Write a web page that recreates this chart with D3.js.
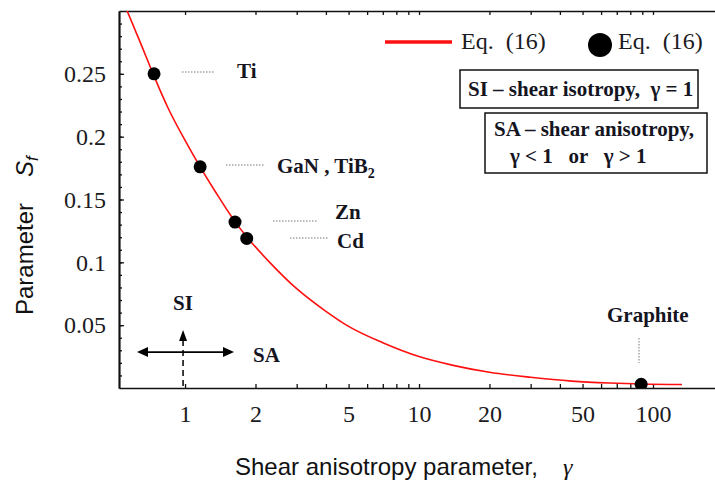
<!DOCTYPE html>
<html>
<head>
<meta charset="utf-8">
<script src="https://cdn.jsdelivr.net/npm/d3@7"></script>
<style>
  html, body { margin: 0; padding: 0; background: #fff; }
  svg { display: block; }
  .serif { font-family: "Liberation Serif", "Times New Roman", serif; }
  .sans { font-family: "Liberation Sans", Arial, sans-serif; }
</style>
</head>
<body>
<svg id="chart" width="715" height="481"></svg>
<script>
// Eq. (16) curve: S_f against shear anisotropy gamma
const curveGamma = [0.56, 0.65, 0.73, 0.85, 1.0, 1.16, 1.35, 1.64, 1.86, 2.3, 3, 4, 5, 7, 10, 14, 20, 30, 45, 65, 90, 133];
const curveS     = [0.302, 0.273, 0.25, 0.222, 0.197, 0.176, 0.156, 0.132, 0.119, 0.1, 0.079, 0.061, 0.049, 0.036, 0.025, 0.018, 0.0125, 0.0085, 0.0055, 0.004, 0.0032, 0.0028];

// materials evaluated with Eq. (16)
const materials     = ["Ti", "GaN , TiB", "Zn", "Cd", "Graphite"];
const materialGamma = [0.737, 1.16, 1.635, 1.835, 89];
const materialS     = [0.25, 0.176, 0.132, 0.119, 0.003];

// axis ticks
const xTickValues = [1, 2, 3, 4, 5, 6, 7, 8, 9, 10, 20, 30, 40, 50, 60, 70, 80, 90, 100];
const xTickLabels = [1, 2, 5, 10, 20, 50, 100];
const yTickLabels = [0.05, 0.1, 0.15, 0.2, 0.25];

(function draw() {
const svg = d3.select("#chart");
const pLeft = 119, pRight = 716, pTop = 11, pBottom = 388;

const x = d3.scaleLog().domain([0.522, 185.9]).range([pLeft, pRight]);
const y = d3.scaleLinear().domain([0, 0.3]).range([pBottom, pTop]);

svg.append("defs").append("clipPath").attr("id", "plotClip")
  .append("rect").attr("x", pLeft).attr("y", pTop)
  .attr("width", pRight - pLeft).attr("height", pBottom - pTop);

// ---- axes ----
const axisColor = "#111";
const styleAxis = g => {
  g.selectAll(".domain").attr("stroke", axisColor).attr("stroke-width", 1.7);
  g.selectAll(".tick line").attr("stroke", axisColor).attr("stroke-width", 1.3);
  g.selectAll("text").attr("class", "serif").attr("font-size", 24)
    .attr("fill", "#1b1b22");
};

// minor y ticks every 0.01
svg.append("g").attr("transform", `translate(${pLeft},0)`)
  .call(d3.axisLeft(y).tickValues(d3.range(0.01, 0.3, 0.01)).tickSize(-3)
    .tickSizeOuter(0).tickFormat(""))
  .call(styleAxis);
svg.append("g").attr("transform", `translate(${pLeft},0)`)
  .call(d3.axisLeft(y).tickValues(yTickLabels).tickSize(-5).tickSizeOuter(0)
    .tickPadding(13).tickFormat(d => String(d)))
  .call(styleAxis);

svg.append("g").attr("transform", `translate(0,${pBottom})`)
  .call(d3.axisBottom(x).tickValues(xTickValues).tickSize(-4).tickSizeOuter(0)
    .tickPadding(17).tickFormat(d => xTickLabels.includes(d) ? String(d) : ""))
  .call(styleAxis);

svg.append("g").attr("transform", `translate(0,${pTop})`)
  .call(d3.axisTop(x).tickValues(xTickValues).tickSize(-4).tickSizeOuter(0)
    .tickFormat(""))
  .call(styleAxis);

// ---- axis titles ----
const xTitle = svg.append("text").attr("class", "sans").attr("font-size", 24)
  .attr("fill", "#111").attr("x", 235).attr("y", 475);
xTitle.append("tspan").text("Shear anisotropy parameter,");
xTitle.append("tspan").attr("class", "serif").attr("x", 563)
  .attr("font-style", "italic").text("γ");

const yTitle = svg.append("text").attr("class", "sans").attr("font-size", 24)
  .attr("fill", "#111")
  .attr("transform", "translate(33,315) rotate(-90)");
yTitle.append("tspan").text("Parameter");
yTitle.append("tspan").attr("dx", 26).attr("font-style", "italic").text("S");
yTitle.append("tspan").attr("font-style", "italic").attr("font-size", 17)
  .attr("dy", 5).text("f");

// ---- curve and points ----
const plot = svg.append("g").attr("clip-path", "url(#plotClip)");
const curveData = curveGamma.map((g, i) => [g, curveS[i]]);
plot.append("path").datum(curveData)
  .attr("fill", "none").attr("stroke", "#ff1010").attr("stroke-width", 1.6)
  .attr("d", d3.line().x(d => x(d[0])).y(d => y(d[1])).curve(d3.curveMonotoneX));

plot.selectAll("circle.mat").data(materials).join("circle")
  .attr("class", "mat")
  .attr("cx", (d, i) => x(materialGamma[i]))
  .attr("cy", (d, i) => y(materialS[i]))
  .attr("r", 6.5).attr("fill", "#000");

// ---- material labels with dotted leaders ----
const labelFont = g => g.attr("class", "serif").attr("font-size", 21)
  .attr("font-weight", "bold").attr("fill", "#15151f");
const leader = (x1, y1, x2, y2) => svg.append("line")
  .attr("x1", x1).attr("y1", y1).attr("x2", x2).attr("y2", y2)
  .attr("stroke", "#777").attr("stroke-width", 1).attr("stroke-dasharray", "1.5,1.5");

leader(182, 72, 215, 72);
svg.append("text").call(labelFont).attr("x", 237).attr("y", 78).text(materials[0]);

leader(226, 165, 265, 165);
const gan = svg.append("text").call(labelFont).attr("x", 277).attr("y", 173);
gan.append("tspan").text(materials[1]);
gan.append("tspan").attr("font-size", 14).attr("dy", 5).text("2");

leader(273, 221, 318, 221);
svg.append("text").call(labelFont).attr("x", 335).attr("y", 219).text(materials[2]);

leader(290, 238, 328, 238);
svg.append("text").call(labelFont).attr("x", 337).attr("y", 248).text(materials[3]);

leader(639, 338, 639, 363);
svg.append("text").call(labelFont).attr("x", 607).attr("y", 322).text(materials[4]);

// ---- SI / SA indicator ----
const xSI = x(1) - 2;
const yArrow = y(0.0286);
svg.append("line").attr("x1", 146).attr("x2", 224).attr("y1", yArrow).attr("y2", yArrow)
  .attr("stroke", "#000").attr("stroke-width", 1.7);
svg.append("path").attr("fill", "#000")
  .attr("d", `M137,${yArrow} L148,${yArrow - 5} L148,${yArrow + 5} Z`);
svg.append("path").attr("fill", "#000")
  .attr("d", `M234,${yArrow} L223,${yArrow - 5} L223,${yArrow + 5} Z`);
svg.append("line").attr("x1", xSI).attr("x2", xSI).attr("y1", pBottom - 2).attr("y2", 340)
  .attr("stroke", "#000").attr("stroke-width", 1.5).attr("stroke-dasharray", "6,4");
svg.append("path").attr("fill", "#000")
  .attr("d", `M${xSI},330 L${xSI - 4},341 L${xSI + 4},341 Z`);
svg.append("text").call(labelFont).attr("x", 173).attr("y", 310).text("SI");
svg.append("text").call(labelFont).attr("x", 253).attr("y", 362).text("SA");

// ---- legend ----
svg.append("line").attr("x1", 385).attr("x2", 452).attr("y1", 42).attr("y2", 42)
  .attr("stroke", "#ff1010").attr("stroke-width", 3.5);
svg.append("text").attr("class", "serif").attr("font-size", 24).attr("fill", "#1b1b22")
  .attr("x", 461).attr("y", 49).attr("xml:space", "preserve").text("Eq.  (16)");
svg.append("circle").attr("cx", 600).attr("cy", 45).attr("r", 12).attr("fill", "#000");
svg.append("text").attr("class", "serif").attr("font-size", 24).attr("fill", "#1b1b22")
  .attr("x", 618).attr("y", 49).attr("xml:space", "preserve").text("Eq.  (16)");

// ---- definition boxes ----
svg.append("rect").attr("x", 460).attr("y", 70).attr("width", 238).attr("height", 38)
  .attr("fill", "#fff").attr("stroke", "#111").attr("stroke-width", 1.5);
svg.append("text").call(labelFont).attr("x", 468).attr("y", 96)
  .attr("xml:space", "preserve").text("SI – shear isotropy,  γ = 1");

svg.append("rect").attr("x", 485).attr("y", 113).attr("width", 222).attr("height", 60)
  .attr("fill", "#fff").attr("stroke", "#111").attr("stroke-width", 1.5);
svg.append("text").call(labelFont).attr("x", 494).attr("y", 136)
  .text("SA – shear anisotropy,");
svg.append("text").call(labelFont).attr("x", 510).attr("y", 163)
  .attr("xml:space", "preserve").text("γ < 1   or   γ > 1");
})();
</script>
</body>
</html>
